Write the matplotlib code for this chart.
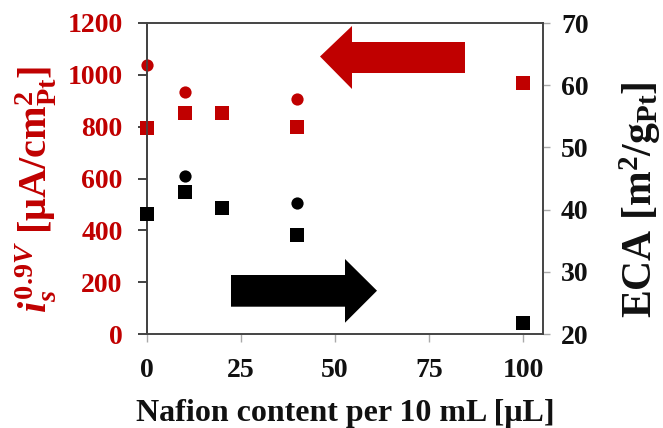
import matplotlib
matplotlib.use("Agg")
import matplotlib.pyplot as plt
from matplotlib.patches import Polygon

plt.rcParams['font.family'] = ['Liberation Serif', 'DejaVu Serif']
plt.rcParams['font.weight'] = 'bold'
plt.rcParams['mathtext.fontset'] = 'custom'
plt.rcParams['mathtext.rm'] = 'Liberation Serif:bold'
plt.rcParams['mathtext.bf'] = 'Liberation Serif:bold'
plt.rcParams['mathtext.it'] = 'Liberation Serif:bold:italic'

RED = '#C00000'

# Data
x_is_circle = [0, 10, 40]
is_circle = [1038, 933, 907]
x_is_square = [0, 10, 20, 40, 100]
is_square = [794, 852, 852, 797, 967]
x_eca_circle = [10, 40]
eca_circle = [45.4, 41.0]
x_eca_square = [0, 10, 20, 40, 100]
eca_square = [39.3, 42.8, 40.2, 35.9, 21.7]
x_ticks = [0, 25, 50, 75, 100]
left_ticks = [0, 200, 400, 600, 800, 1000, 1200]
right_ticks = [20, 30, 40, 50, 60, 70]

fig = plt.figure(figsize=(6.63, 4.28), dpi=100)
ax = fig.add_axes([147/663, 1-334/428, 396/663, 311/428])
ax2 = ax.twinx()

ax.plot(x_is_circle, is_circle, 'o', color=RED, ms=8.8, mew=0, clip_on=False, zorder=5)
ax.plot(x_is_square, is_square, 's', color=RED, ms=9.5, mew=0, clip_on=False, zorder=5)
ax2.plot(x_eca_circle, eca_circle, 'o', color='black', ms=8.8, mew=0, clip_on=False, zorder=5)
ax2.plot(x_eca_square, eca_square, 's', color='black', ms=9.5, mew=0, clip_on=False, zorder=5)

ax.set_xlim(0, 105.3)
ax.set_ylim(0, 1200)
ax2.set_ylim(20, 70)
ax.set_xticks(x_ticks)
ax.set_yticks(left_ticks)
ax2.set_yticks(right_ticks)

for a in (ax, ax2):
    for s in a.spines.values():
        s.set_color('#444444')
        s.set_linewidth(1.2)
ax.spines['left'].set_color('#222222')

ax.tick_params(axis='y', direction='out', length=6.5, width=1.2, color='#222222',
               labelsize=20, labelcolor=RED, pad=11)
ax.tick_params(axis='x', direction='out', length=6, width=1.0, color='#aaaaaa',
               labelsize=20, labelcolor='#111111', pad=11)
ax2.tick_params(axis='y', direction='out', length=5, width=1.0, color='#aaaaaa',
                labelsize=20, labelcolor='#111111', pad=8)

ax.set_xlabel('Nafion content per 10 mL [μL]', fontsize=23, fontweight='bold',
              color='#111111', labelpad=12)

fig.text(36/663, 1-189/428, r'$\mathit{i}_{\mathit{s}}^{\mathit{0.9V}}$ [μA/cm$^{2}_{\mathrm{Pt}}$]',
         rotation=90, ha='center', va='center', fontsize=29, color=RED)
fig.text(640/663, 1-199.5/428, r'ECA [m$^{2}$/g$_{\mathrm{Pt}}$]',
         rotation=90, ha='center', va='center', fontsize=30, color='#111111')

# Arrows (axes-fraction coordinates)
red_arrow = [(0.4369, 0.8923), (0.5177, 0.9904), (0.5177, 0.9389), (0.8030, 0.9389),
             (0.8030, 0.8392), (0.5177, 0.8392), (0.5177, 0.7878)]
black_arrow = [(0.5808, 0.1392), (0.5, 0.2412), (0.5, 0.1897), (0.2121, 0.1897),
               (0.2121, 0.0878), (0.5, 0.0878), (0.5, 0.0363)]
ax2.add_patch(Polygon(red_arrow, closed=True, transform=ax2.transAxes, color=RED, lw=0))
ax2.add_patch(Polygon(black_arrow, closed=True, transform=ax2.transAxes, color='black', lw=0))

fig.savefig('out.png', dpi=100)
